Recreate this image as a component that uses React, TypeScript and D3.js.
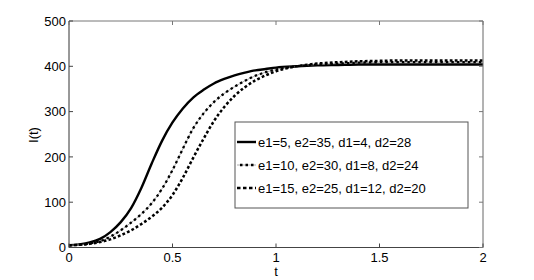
import React from "react";
import * as d3 from "d3";

const T = [0, 0.05, 0.1, 0.15, 0.2, 0.25, 0.3, 0.35, 0.4, 0.45, 0.5, 0.55, 0.6, 0.65, 0.7, 0.75, 0.8, 0.85, 0.9, 0.95, 1.0, 1.1, 1.2, 1.3, 1.4, 1.5, 1.6, 1.7, 1.8, 1.9, 2.0];
const series1 = [5, 7, 11, 19, 34, 56, 87, 132, 186, 236, 276, 307, 331, 348, 362, 372, 380, 386, 391, 394, 397, 400, 402, 403, 404, 404, 404, 404, 404, 404, 404];
const series2 = [5, 6, 9, 14, 24, 38, 55, 74, 98, 130, 171, 218, 263, 296, 321, 340, 355, 368, 379, 387, 393, 400, 404, 406, 408, 409, 409, 409, 409, 409, 409];
const series3 = [5, 6, 8, 12, 18, 27, 38, 52, 68, 88, 116, 154, 198, 240, 279, 310, 335, 354, 369, 380, 389, 400, 406, 409, 411, 412, 413, 413, 413, 413, 413];
const legendLabels = ["e1=5, e2=35, d1=4, d2=28", "e1=10, e2=30, d1=8, d2=24", "e1=15, e2=25, d1=12, d2=20"];
const xTicks = [0, 0.5, 1, 1.5, 2];
const xTickLabels = ["0", "0.5", "1", "1.5", "2"];
const yTicks = [0, 100, 200, 300, 400, 500];

export default function App() {
  const W = 534, H = 280;
  const x = d3.scaleLinear().domain([0, 2]).range([69, 483]);
  const y = d3.scaleLinear().domain([0, 500]).range([247.5, 21]);
  const line = (vals: number[]) =>
    d3.line<number>().x((_, i) => x(T[i])).y((v) => y(v)).curve(d3.curveMonotoneX)(vals) || "";
  const font = "'Liberation Sans', Arial, Helvetica, sans-serif";
  const x0 = x(0), x1 = x(2), y0 = y(0), y1 = y(500);
  const lg = { x: 235, y: 122, w: 233, h: 86 };
  const rowY = [142, 165, 188];
  const fs = 13;
  return (
    <svg width={W} height={H} style={{ position: "absolute", left: 0, top: 0, background: "#fff" }} fontFamily={font}>
      <rect x={0} y={0} width={W} height={H} fill="#fff" />
      {/* curves */}
      <path d={line(series1)} fill="none" stroke="#000" strokeWidth={2.4} />
      <path d={line(series2)} fill="none" stroke="#999" strokeWidth={0.8} />
      <path d={line(series2)} fill="none" stroke="#000" strokeWidth={2.3} strokeDasharray="2.5,3" />
      <path d={line(series3)} fill="none" stroke="#000" strokeWidth={2.5} strokeDasharray="2.8,2.2" />
      {/* box */}
      <line x1={x0} x2={x1} y1={y1} y2={y1} stroke="#777" strokeWidth={1} />
      <line x1={x1} x2={x1} y1={y1} y2={y0} stroke="#666" strokeWidth={1} />
      <line x1={x0} x2={x0} y1={y1} y2={y0} stroke="#333" strokeWidth={1} />
      <line x1={x0} x2={x1} y1={y0} y2={y0} stroke="#444" strokeWidth={1} />
      {xTicks.map((t, i) => (
        <g key={"xt" + i}>
          <line x1={x(t)} x2={x(t)} y1={y0} y2={y0 - 4} stroke="#444" />
          <line x1={x(t)} x2={x(t)} y1={y1} y2={y1 + 4} stroke="#777" />
          <text x={x(t)} y={262} fontSize={fs} textAnchor="middle" fill="#000">{xTickLabels[i]}</text>
        </g>
      ))}
      {yTicks.map((v, i) => (
        <g key={"yt" + i}>
          <line x1={x0} x2={x0 + 4} y1={y(v)} y2={y(v)} stroke="#444" />
          <line x1={x1} x2={x1 - 4} y1={y(v)} y2={y(v)} stroke="#777" />
          <text x={66} y={y(v) + 4.6} fontSize={fs} textAnchor="end" fill="#000">{v}</text>
        </g>
      ))}
      <text x={x(1)} y={276} fontSize={fs} textAnchor="middle" fill="#000">t</text>
      <text transform={`translate(38,135) rotate(-90)`} fontSize={fs} textAnchor="middle" fill="#000">I(t)</text>
      {/* legend */}
      <rect x={lg.x} y={lg.y} width={lg.w} height={lg.h} fill="#fff" stroke="#555" strokeWidth={1} />
      <line x1={237} x2={256} y1={rowY[0]} y2={rowY[0]} stroke="#000" strokeWidth={2.4} />
      <line x1={237} x2={256} y1={rowY[1]} y2={rowY[1]} stroke="#999" strokeWidth={0.8} />
      <line x1={237} x2={256} y1={rowY[1]} y2={rowY[1]} stroke="#000" strokeWidth={2.3} strokeDasharray="2.5,3" strokeDashoffset={-3} />
      <line x1={237} x2={256} y1={rowY[2]} y2={rowY[2]} stroke="#000" strokeWidth={2.5} strokeDasharray="3.5,2.5" />
      {legendLabels.map((s, i) => (
        <text key={"lg" + i} x={258} y={rowY[i] + 4.6} fontSize={fs} fill="#000">{s}</text>
      ))}
    </svg>
  );
}
